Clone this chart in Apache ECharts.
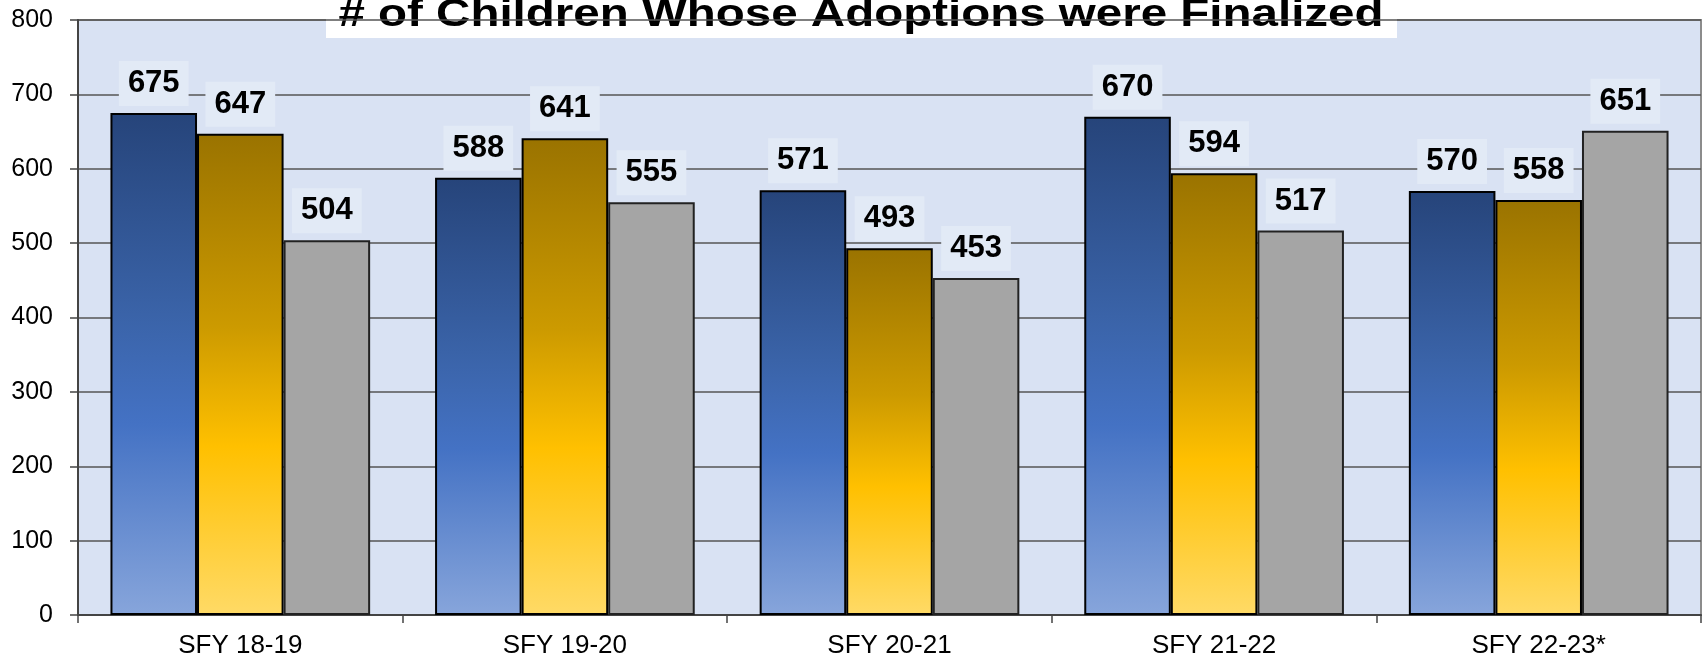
<!DOCTYPE html>
<html>
<head>
<meta charset="utf-8">
<script src="https://cdn.jsdelivr.net/npm/echarts@6/dist/echarts.min.js"></script>
<style>
  html, body { margin: 0; padding: 0; background: #fff; }
  #main { width: 1702px; height: 660px; }
</style>
</head>
<body>
<div id="main"></div>
<script>
var categories = ['SFY 18-19', 'SFY 19-20', 'SFY 20-21', 'SFY 21-22', 'SFY 22-23*'];
var seriesA = [675, 588, 571, 670, 570];
var seriesB = [647, 641, 493, 594, 558];
var seriesC = [504, 555, 453, 517, 651];
var yTicks = [0, 100, 200, 300, 400, 500, 600, 700, 800];
var titleText = '# of Children Whose Adoptions were Finalized';

var FONT = 'Liberation Sans, Arial, sans-serif';

function grad(stops) {
    return new echarts.graphic.LinearGradient(0, 0, 0, 1, stops);
}

var blueFill = grad([
    { offset: 0, color: '#26447A' },
    { offset: 0.4, color: '#3A63A8' },
    { offset: 0.62, color: '#4472C4' },
    { offset: 1, color: '#87A5DB' }
]);
var goldFill = grad([
    { offset: 0, color: '#9A7300' },
    { offset: 0.4, color: '#CC9A00' },
    { offset: 0.65, color: '#FFC000' },
    { offset: 1, color: '#FFDA66' }
]);

// 数值标签
var valueLabel = {
    show: true,
    position: 'top',
    distance: 7,
    color: '#000',
    fontFamily: FONT,
    fontWeight: 'bold',
    fontSize: 31,
    lineHeight: 31,
    backgroundColor: '#E2EAF6',
    padding: [7, 9, 7, 9]
};

function makeSeries(name, data, fill, border) {
    return {
        name: name,
        type: 'bar',
        data: data,
        barGap: '0%',
        barCategoryGap: '20%',
        itemStyle: {
            color: fill,
            borderColor: border,
            borderWidth: 2
        },
        label: valueLabel,
        emphasis: { disabled: true }
    };
}

var chart = echarts.init(document.getElementById('main'), null, { renderer: 'canvas' });

var option = {
    animation: false,
    backgroundColor: '#fff',
    grid: {
        left: 78,
        right: 1,
        top: 20,
        bottom: 45,
        show: true,
        backgroundColor: '#D9E2F3',
        borderColor: '#8C8C8C',
        borderWidth: 2
    },
    xAxis: {
        type: 'category',
        data: categories,
        axisLine: { lineStyle: { color: '#444', width: 2 } },
        axisTick: { show: true, alignWithLabel: false, length: 8, lineStyle: { color: '#444', width: 1.5 } },
        axisLabel: { color: '#000', fontFamily: FONT, fontSize: 26, margin: 18 }
    },
    yAxis: {
        type: 'value',
        min: yTicks[0],
        max: yTicks[yTicks.length - 1],
        interval: yTicks[1] - yTicks[0],
        axisLine: { show: true, lineStyle: { color: '#444', width: 2 } },
        axisTick: { show: true, length: 8, lineStyle: { color: '#444', width: 1.5 } },
        axisLabel: { color: '#000', fontFamily: FONT, fontSize: 25, margin: 25 },
        splitLine: { lineStyle: { color: '#555', width: 1.5 } }
    },
    series: [
        makeSeries('A', seriesA, blueFill, '#000'),
        makeSeries('B', seriesB, goldFill, '#000'),
        makeSeries('C', seriesC, '#A5A5A5', '#222')
    ],
    graphic: [{
        type: 'group',
        z: 100,
        children: [{
            type: 'rect',
            shape: { x: 326, y: 0, width: 1071, height: 38 },
            style: { fill: '#fff' }
        }, {
            type: 'text',
            x: 861,
            y: 16,
            scaleX: 1.25,
            style: {
                text: titleText,
                fill: '#000',
                font: 'bold 38px ' + FONT,
                align: 'center',
                verticalAlign: 'middle'
            }
        }]
    }]
};

chart.setOption(option);
</script>
</body>
</html>
